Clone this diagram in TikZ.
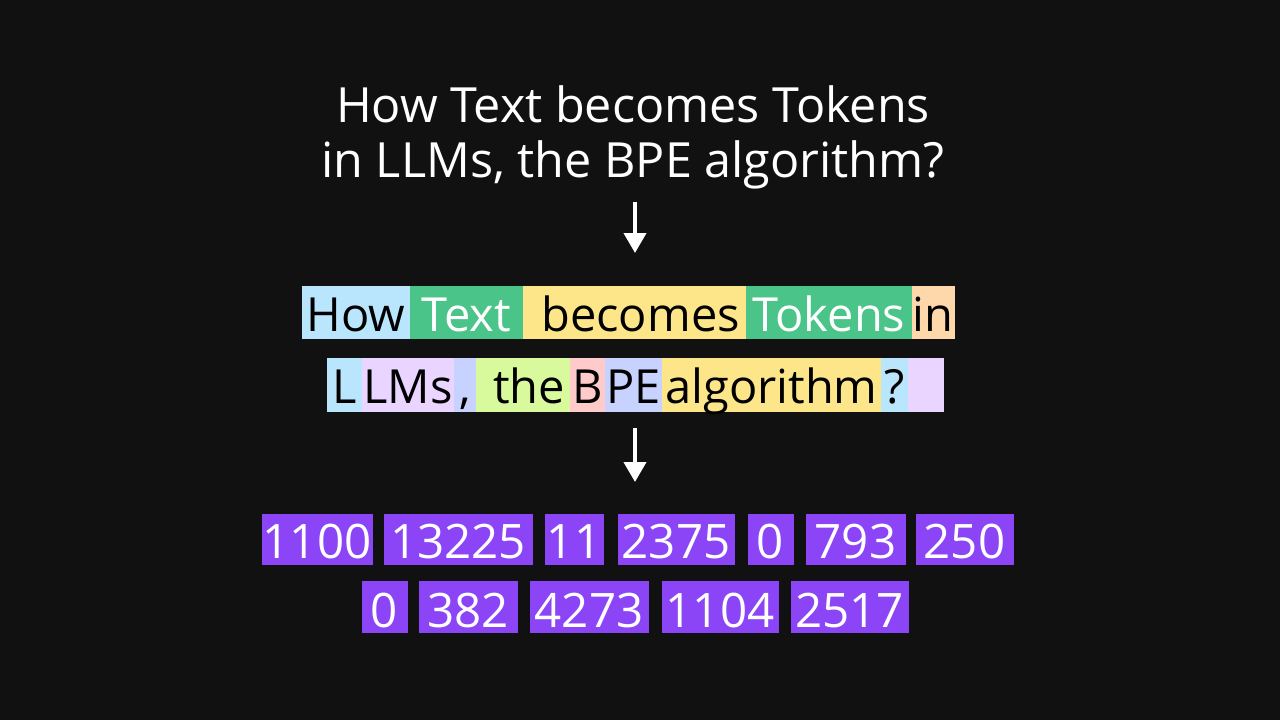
\documentclass[tikz,border=0pt]{standalone}
\usepackage{fontspec}
\setmainfont{Open Sans}
\usepackage{xcolor}
\definecolor{bgDark}{HTML}{111111}
\definecolor{tokBlue}{HTML}{BAE6FD}
\definecolor{tokGreen}{HTML}{4BC48A}
\definecolor{tokYellow}{HTML}{FDE68A}
\definecolor{tokPeach}{HTML}{FED7AA}
\definecolor{tokLavender}{HTML}{E9D5FF}
\definecolor{tokPeri}{HTML}{C7D2FE}
\definecolor{tokLime}{HTML}{D9F99D}
\definecolor{tokPink}{HTML}{FECACA}
\definecolor{tokPurple}{HTML}{8B45F6}
\usepackage{tikz}
\usetikzlibrary{arrows.meta,positioning}

\newcommand{\tokfont}{\fontsize{47}{56}\selectfont}
\newcommand{\titlefont}{\fontsize{48.5}{56}\selectfont}
\newcommand{\numfont}{\fontsize{47.5}{56}\selectfont}

\tikzset{
  tok/.style={rectangle, inner sep=0pt, outer sep=0pt, anchor=north west, text=black, font=\tokfont},
  paint/.style={fill=#1, draw=#1, line width=0.6pt},
  rowA/.style={tok, text height=45pt, text depth=7pt},
  rowB/.style={tok, text height=45pt, text depth=8pt},
  numbox/.style={tok, paint=tokPurple, text=white, font=\numfont},
  flow/.style={-{Triangle[width=22pt,length=20pt]}, white, line width=4pt},
}

\begin{document}
\begin{tikzpicture}[x=1pt, y=-1pt]
  \fill[bgDark] (0,0) rectangle (1280,720);
  % question
  \node[font=\titlefont, text=white, anchor=base] (titleA) at (633,122) {How Text becomes Tokens};
  \node[font=\titlefont, text=white, anchor=base] (titleB) at (633,177) {in LLMs, the BPE algorithm?};
  \coordinate (flowAtop) at (635,202);
  \coordinate (flowAend) at (635,253);
  \draw[flow] (flowAtop) -- (flowAend);
  % split into tokens
  \node[rowA, paint=tokBlue, minimum width=108pt] (tHow) at (302,286) {How};
  \node[rowA, paint=tokGreen, text=white, minimum width=113pt] (tText) at (tHow.north east) {Text};
  \node[rowA, paint=tokYellow, minimum width=223pt] (tBecomes) at (tText.north east) {\ becomes};
  \node[rowA, paint=tokGreen, text=white, minimum width=166pt] (tTokens) at (tBecomes.north east) {Tokens};
  \node[rowA, paint=tokPeach, minimum width=42pt] (tIn) at (tTokens.north east) {in};
  \node[rowB, paint=tokBlue, minimum width=35pt] (tL) at (327,358) {L};
  \node[rowB, paint=tokLavender, minimum width=92pt] (tLMs) at (tL.north east) {LMs};
  \node[rowB, paint=tokPeri, minimum width=22pt] (tComma) at (tLMs.north east) {,};
  \node[rowB, paint=tokLime, minimum width=94pt] (tThe) at (tComma.north east) {\ the};
  \node[rowB, paint=tokPink, minimum width=35pt] (tB) at (tThe.north east) {B};
  \node[rowB, paint=tokPeri, minimum width=57pt] (tPE) at (tB.north east) {PE};
  \node[rowB, paint=tokYellow, minimum width=219pt] (tAlgo) at (tPE.north east) {algorithm};
  \node[rowB, paint=tokBlue, minimum width=27pt] (tQuest) at (tAlgo.north east) {?};
  \node[rowB, paint=tokLavender, minimum width=35pt] (tEnd) at (tQuest.north east) {};
  \coordinate (flowBtop) at (635,428);
  \coordinate (flowBend) at (635,482);
  \draw[flow] (flowBtop) -- (flowBend);
  % token ids
  \foreach \x/\w/\v [count=\i] in {262/110/1100, 384/148/13225, 545/58/11, 618/116/2375,
                                   748/45/0, 806/99/793, 916/97/250} {
    \node[numbox, text height=44pt, text depth=6pt, minimum width={\w pt}] (idA\i) at (\x,514) {\v};
  }
  \foreach \x/\w/\v [count=\i] in {362/45/0, 419/98/382, 530/118/4273, 662/116/1104, 791/117/2517} {
    \node[numbox, text height=46pt, text depth=5pt, minimum width={\w pt}] (idB\i) at (\x,581) {\v};
  }
\end{tikzpicture}
\end{document}
